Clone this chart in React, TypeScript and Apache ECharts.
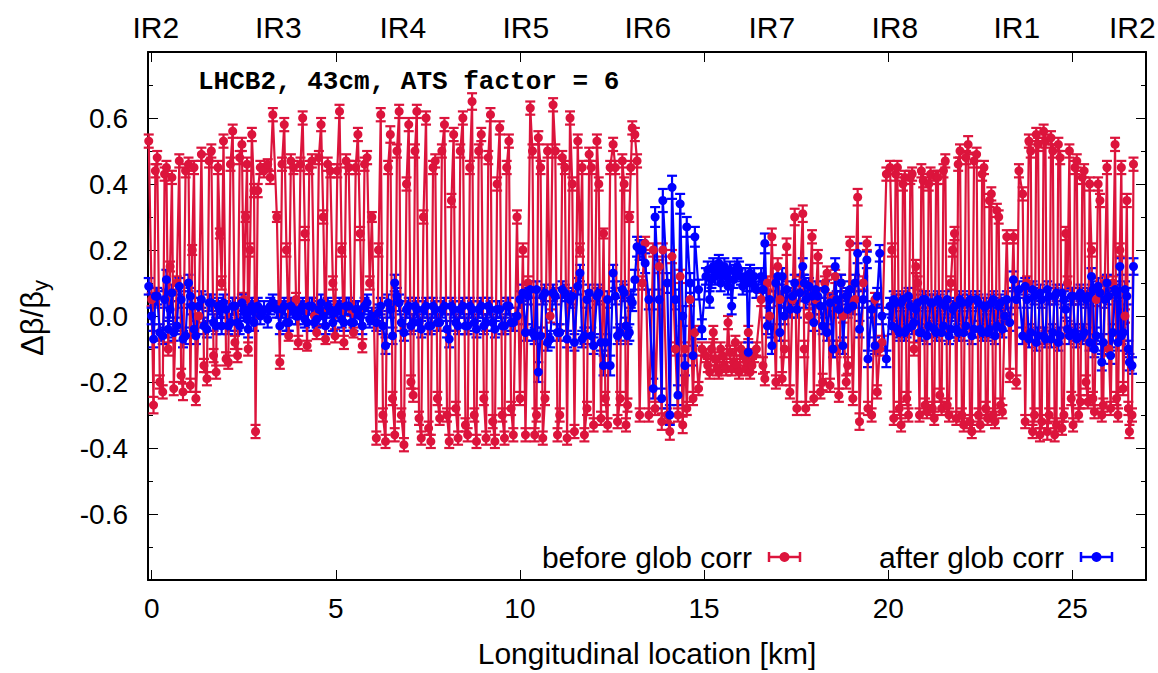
import React, { useEffect, useRef } from "react";
import * as echarts from "echarts";

// ---- BPM group A: longitudinal positions [km]
const locationsKm = [
  -0.08, 0.05, 0.15, 0.3, 0.4, 0.5, 0.6, 0.75, 0.85, 1.0, 1.1, 1.2, 1.35, 1.5, 1.62, 1.75, 1.85, 1.95, 2.08, 2.2, 2.33, 2.45, 2.55, 2.62, 2.72,
  2.78, 2.82, 2.88, 2.95, 3.05, 3.15, 3.22, 3.29,
  3.4, 3.48, 3.6, 3.72, 3.85, 3.98, 4.1, 4.22, 4.35, 4.48, 4.6, 4.72, 4.85, 4.98, 5.1, 5.22, 5.35, 5.48, 5.6, 5.72, 5.85, 5.98,
  6.1, 6.22, 6.35, 6.48, 6.6, 6.72, 6.85, 6.98, 7.1, 7.2, 7.32, 7.45, 7.58, 7.7, 7.82, 7.95, 8.08, 8.2, 8.32, 8.45, 8.58, 8.7, 8.82, 8.95, 9.08, 9.2, 9.32, 9.45, 9.58, 9.7, 9.82,
  9.92, 10.0, 10.08, 10.15,
  10.28, 10.4, 10.5, 10.62, 10.75, 10.9, 11.02, 11.15, 11.28, 11.36, 11.48, 11.57, 11.63, 11.75, 11.88, 12.0, 12.09, 12.2, 12.27, 12.38, 12.45, 12.53, 12.65, 12.78, 12.88, 12.97, 13.05,
  13.12, 13.18, 13.25, 13.32,
  13.4, 13.5, 13.62, 13.67, 13.78, 13.85, 13.88, 14.0, 14.07, 14.13, 14.22, 14.29, 14.35, 14.42, 14.48, 14.53, 14.62, 14.7, 14.75, 14.85, 14.94,
  15.05, 15.15, 15.25, 15.35, 15.45, 15.55, 15.65, 15.75, 15.85, 15.95, 16.05, 16.12, 16.2, 16.3, 16.42,
  16.55, 16.65, 16.72, 16.84, 16.95, 17.06, 17.12, 17.24, 17.33, 17.46, 17.52, 17.6, 17.68, 17.76, 17.85, 17.93, 17.98, 18.09, 18.16, 18.28, 18.34, 18.42, 18.5, 18.56, 18.66, 18.77, 18.86, 18.96, 19.04, 19.17, 19.22, 19.32, 19.42, 19.45, 19.55, 19.64, 19.7, 19.77, 19.83,
  19.95, 20.05,
  20.15, 20.25, 20.35, 20.45, 20.55, 20.65, 20.75, 20.85, 20.95, 21.05, 21.15, 21.25, 21.35, 21.45, 21.55, 21.65, 21.75, 21.85, 21.95, 22.05, 22.17, 22.27, 22.4, 22.5, 22.6, 22.7, 22.8, 22.9, 23.0, 23.1, 23.22, 23.3,
  23.4, 23.48, 23.55,
  23.65, 23.72, 23.82, 23.92, 24.02, 24.12, 24.22, 24.32, 24.42, 24.52, 24.62, 24.72, 24.82, 24.92, 25.02, 25.12, 25.22, 25.32, 25.42, 25.52, 25.6, 25.7, 25.8, 25.88, 25.94, 26.04, 26.16, 26.24, 26.29, 26.38, 26.48, 26.55, 26.62, 26.66,
];

// Δβ/β_y before global correction (group A)
const beforeGlobCorr = [
  0.53, -0.27, 0.48, -0.23, 0.45, 0.15, -0.22, 0.47, -0.23, 0.46, 0.2, -0.25, 0.49, -0.19, 0.5, -0.17, 0.25, 0.53, -0.14, 0.56, -0.12, 0.52, 0.3, -0.1, 0.55,
  0.38, -0.35, 0.38, 0.45, 0.44, 0.46, 0.42, 0.61,
  0.3, -0.14, 0.58, -0.06, 0.45, -0.08, 0.6, -0.09, 0.47, -0.05, 0.58, -0.07, 0.44, -0.06, 0.62, -0.08, 0.45, -0.05, 0.55, -0.09, 0.48, 0.3,
  -0.37, 0.61, -0.38, 0.55, -0.36, 0.62, -0.39, 0.58, -0.24, 0.62, -0.37, 0.6, -0.38, 0.47, -0.31, 0.58, -0.38, 0.55, -0.37, 0.6, -0.36, 0.65, -0.38, 0.55, -0.37, 0.61, -0.38, 0.57, -0.37, 0.53, -0.36,
  0.3, -0.25, 0.2, -0.36,
  0.63, -0.36, 0.54, -0.37, 0.5, 0.64, -0.36, 0.48, -0.37, 0.6, -0.35, 0.53, 0.2, -0.36, 0.49, -0.33, 0.53, -0.31, 0.25, -0.33, 0.45, 0.52, -0.32, 0.47, -0.33, 0.3, 0.57,
  0.55, 0.47, -0.3, 0.1,
  0.22, -0.3, 0.2, -0.28, 0.15, -0.32, 0.2, -0.3, -0.35, 0.18, -0.1, -0.3, 0.12, -0.33, -0.1, -0.28, 0.05, -0.25, -0.05, -0.22, -0.1,
  -0.12, -0.17, -0.05, -0.16, -0.1, -0.15, -0.02, -0.16, -0.08, -0.17, -0.12, -0.16, -0.05, -0.15, -0.1,
  0.05, -0.19, 0.1, 0.24, -0.2, 0.05, -0.19, 0.21, -0.23, 0.3, -0.28, 0.1, 0.31, -0.28, 0.0, 0.24, -0.25, 0.18, -0.23, 0.1, 0.13, -0.21, 0.05, 0.12, -0.24, 0.0, -0.2, 0.22, -0.25, 0.36, -0.32, 0.1, 0.22, -0.28, -0.3, 0.05, -0.23, -0.1, -0.08,
  0.43, 0.45,
  -0.31, 0.45, -0.33, 0.42, -0.3, 0.43, 0.15, -0.3, 0.41, -0.29, 0.43, -0.31, 0.42, -0.28, 0.47, -0.3, 0.2, -0.31, 0.5, -0.33, 0.52, -0.35, 0.49, -0.33, 0.45, -0.31, 0.37, -0.32, 0.3, -0.29, 0.24, -0.18,
  0.24, -0.2, 0.44,
  0.37, -0.32, 0.53, -0.35, 0.55, -0.36, 0.56, -0.35, 0.54, -0.36, 0.52, -0.34, 0.25, 0.5, -0.33, 0.47, -0.26, 0.44, -0.26, 0.2, -0.29, 0.4, -0.3, 0.1, 0.45, -0.28, 0.52, -0.3, 0.2, -0.22, 0.35, -0.35, -0.3, 0.46,
];

// Δβ/β_y after global correction (group A)
const afterGlobCorr = [
  0.09, -0.07, 0.06, -0.06, 0.11, 0.02, -0.05, 0.09, -0.07, 0.1, 0.03, -0.06, 0.05, -0.04, 0.04, -0.03, 0.02, 0.04, -0.03, 0.03, -0.02, 0.04, 0.01, -0.04, 0.03,
  -0.02, 0.02, 0.03, 0.0, 0.02, -0.01, 0.03, 0.04,
  0.02, -0.03, 0.03, -0.02, 0.02, 0.0, 0.03, -0.02, 0.03, -0.01, 0.04, -0.03, 0.02, 0.01, 0.03, -0.02, 0.03, -0.02, 0.02, -0.03, 0.04, 0.0,
  -0.02, 0.03, -0.09, 0.02, 0.1, 0.04, -0.05, 0.03, -0.02, 0.02, -0.04, 0.03, -0.03, 0.02, -0.02, 0.03, -0.07, 0.02, -0.03, 0.03, -0.03, 0.02, -0.04, 0.03, -0.02, 0.02, -0.04, 0.02, -0.03, 0.03, -0.02,
  0.0, 0.05, 0.07, -0.05,
  0.08, -0.06, -0.17, 0.06, -0.08, 0.07, -0.05, 0.08, -0.07, 0.05, -0.08, 0.09, 0.13, -0.06, 0.07, -0.09, 0.06, -0.08, -0.15, 0.05, -0.15, 0.13, -0.06, 0.08, -0.03, -0.05, 0.04,
  0.11, 0.21, 0.2, 0.2,
  0.16, 0.05, -0.22, 0.3, 0.05, -0.25, 0.35, 0.1, -0.3, 0.39, 0.05, -0.24, 0.34, 0.0, -0.15, 0.27, 0.1, -0.12, 0.24, 0.08, -0.04,
  0.12, 0.05, 0.15, 0.14, 0.1, 0.15, 0.09, 0.03, 0.13, 0.14, 0.09, 0.12, -0.11, 0.1, 0.08,
  0.12, 0.22, -0.03, -0.09, 0.1, -0.05, 0.12, 0.08, 0.02, 0.1, 0.02, 0.07, 0.15, 0.05, 0.09, 0.06, -0.02, 0.06, 0.03, 0.08, -0.05, 0.04, -0.1, 0.15, 0.02, -0.09, 0.06, 0.08, 0.03, 0.19, -0.04, 0.05, 0.17, -0.13, 0.02, -0.09, 0.06, 0.19, 0.0,
  -0.13, 0.03,
  0.05, -0.04, 0.04, -0.05, 0.06, -0.03, 0.02, -0.05, 0.05, -0.06, 0.04, -0.04, 0.05, -0.05, 0.03, -0.06, 0.02, -0.04, 0.05, -0.05, 0.04, -0.06, 0.05, -0.04, 0.03, -0.05, 0.04, -0.06, 0.03, -0.04, 0.05, -0.02,
  0.11, 0.05, 0.08,
  -0.06, 0.09, -0.07, 0.08, -0.08, 0.07, -0.06, 0.08, -0.07, 0.06, -0.08, 0.07, 0.02, -0.06, 0.06, -0.07, 0.07, -0.05, 0.06, 0.12, -0.1, 0.09, -0.14, 0.05, 0.1, -0.12, 0.08, -0.08, 0.15, -0.05, 0.06, -0.14, -0.15, 0.15,
];

const beforeErr = [
  0.02, 0.025, 0.02, 0.02, 0.02, 0.015, 0.02, 0.02, 0.025, 0.02, 0.015, 0.02, 0.02, 0.02, 0.02, 0.02, 0.015, 0.02, 0.02, 0.02, 0.02, 0.02, 0.015, 0.02, 0.02,
  0.02, 0.02, 0.02, 0.02, 0.02, 0.015, 0.02, 0.02,
  0.015, 0.02, 0.02, 0.015, 0.02, 0.02, 0.02, 0.015, 0.02, 0.02, 0.02, 0.015, 0.02, 0.02, 0.02, 0.02, 0.02, 0.015, 0.02, 0.02, 0.02, 0.015,
  0.02, 0.02, 0.02, 0.025, 0.02, 0.02, 0.02, 0.02, 0.02, 0.02, 0.02, 0.02, 0.02, 0.02, 0.02, 0.02, 0.02, 0.02, 0.02, 0.02, 0.02, 0.025, 0.02, 0.02, 0.02, 0.02, 0.02, 0.02, 0.02, 0.02, 0.02,
  0.02, 0.02, 0.02, 0.02,
  0.02, 0.02, 0.02, 0.02, 0.02, 0.02, 0.02, 0.02, 0.02, 0.02, 0.02, 0.02, 0.02, 0.02, 0.02, 0.02, 0.02, 0.02, 0.015, 0.02, 0.02, 0.02, 0.02, 0.02, 0.02, 0.015, 0.02,
  0.02, 0.02, 0.02, 0.02,
  0.02, 0.02, 0.02, 0.02, 0.02, 0.025, 0.02, 0.02, 0.025, 0.02, 0.02, 0.02, 0.02, 0.025, 0.02, 0.02, 0.02, 0.02, 0.02, 0.02, 0.02,
  0.02, 0.02, 0.02, 0.02, 0.02, 0.02, 0.02, 0.02, 0.02, 0.02, 0.02, 0.02, 0.02, 0.02, 0.02,
  0.02, 0.02, 0.02, 0.025, 0.02, 0.02, 0.02, 0.025, 0.02, 0.025, 0.02, 0.02, 0.025, 0.02, 0.02, 0.02, 0.02, 0.02, 0.02, 0.02, 0.02, 0.02, 0.02, 0.02, 0.02, 0.02, 0.02, 0.02, 0.02, 0.025, 0.025, 0.02, 0.02, 0.02, 0.02, 0.02, 0.02, 0.02, 0.02,
  0.02, 0.02,
  0.02, 0.02, 0.02, 0.02, 0.02, 0.02, 0.02, 0.02, 0.02, 0.02, 0.02, 0.02, 0.02, 0.02, 0.02, 0.02, 0.02, 0.02, 0.02, 0.02, 0.025, 0.02, 0.02, 0.02, 0.02, 0.02, 0.02, 0.02, 0.02, 0.02, 0.02, 0.02,
  0.02, 0.02, 0.02,
  0.02, 0.02, 0.02, 0.02, 0.02, 0.02, 0.02, 0.025, 0.02, 0.02, 0.02, 0.02, 0.02, 0.02, 0.02, 0.02, 0.02, 0.02, 0.02, 0.02, 0.02, 0.02, 0.02, 0.02, 0.02, 0.02, 0.02, 0.02, 0.02, 0.02, 0.02, 0.02, 0.02, 0.02,
];

const afterErr = [
  0.025, 0.025, 0.025, 0.025, 0.03, 0.025, 0.025, 0.025, 0.025, 0.025, 0.025, 0.025, 0.025, 0.025, 0.025, 0.025, 0.025, 0.025, 0.025, 0.025, 0.025, 0.025, 0.025, 0.025, 0.025,
  0.025, 0.025, 0.025, 0.025, 0.025, 0.025, 0.025, 0.025,
  0.025, 0.025, 0.025, 0.025, 0.025, 0.025, 0.025, 0.025, 0.025, 0.025, 0.025, 0.025, 0.025, 0.025, 0.025, 0.025, 0.025, 0.025, 0.025, 0.025, 0.025, 0.025,
  0.025, 0.025, 0.025, 0.025, 0.025, 0.025, 0.025, 0.025, 0.025, 0.025, 0.025, 0.025, 0.025, 0.025, 0.025, 0.025, 0.025, 0.025, 0.025, 0.025, 0.025, 0.025, 0.025, 0.025, 0.025, 0.025, 0.025, 0.025, 0.025, 0.025, 0.025,
  0.025, 0.025, 0.025, 0.025,
  0.025, 0.025, 0.03, 0.025, 0.025, 0.025, 0.025, 0.025, 0.025, 0.025, 0.025, 0.025, 0.025, 0.025, 0.025, 0.025, 0.025, 0.025, 0.03, 0.025, 0.03, 0.025, 0.025, 0.025, 0.025, 0.025, 0.025,
  0.03, 0.03, 0.03, 0.03,
  0.03, 0.03, 0.03, 0.03, 0.03, 0.03, 0.035, 0.03, 0.03, 0.035, 0.03, 0.03, 0.03, 0.03, 0.03, 0.03, 0.03, 0.03, 0.03, 0.03, 0.03,
  0.025, 0.025, 0.025, 0.025, 0.025, 0.025, 0.025, 0.025, 0.025, 0.025, 0.025, 0.025, 0.03, 0.025, 0.025,
  0.025, 0.03, 0.025, 0.025, 0.025, 0.025, 0.025, 0.025, 0.025, 0.025, 0.025, 0.025, 0.025, 0.025, 0.025, 0.025, 0.025, 0.025, 0.025, 0.025, 0.025, 0.025, 0.025, 0.025, 0.025, 0.025, 0.025, 0.025, 0.025, 0.03, 0.025, 0.025, 0.025, 0.025, 0.025, 0.025, 0.025, 0.025, 0.025,
  0.025, 0.025,
  0.025, 0.025, 0.025, 0.025, 0.025, 0.025, 0.025, 0.025, 0.025, 0.025, 0.025, 0.025, 0.025, 0.025, 0.025, 0.025, 0.025, 0.025, 0.025, 0.025, 0.025, 0.025, 0.025, 0.025, 0.025, 0.025, 0.025, 0.025, 0.025, 0.025, 0.025, 0.025,
  0.025, 0.025, 0.025,
  0.025, 0.025, 0.025, 0.025, 0.025, 0.025, 0.025, 0.025, 0.025, 0.025, 0.025, 0.025, 0.025, 0.025, 0.025, 0.025, 0.025, 0.025, 0.025, 0.025, 0.025, 0.025, 0.025, 0.025, 0.025, 0.025, 0.025, 0.025, 0.025, 0.025, 0.025, 0.025, 0.025, 0.025,
];

// ---- BPM group B (interleaved arc monitors): positions [km]
const locationsKmB = [
  0.0, 0.1, 0.22, 0.35, 0.45, 0.55, 0.68, 0.8, 0.92, 1.05, 1.15, 1.28, 1.42, 1.56, 1.68, 1.8, 1.9, 2.02, 2.14, 2.26, 2.39, 2.5, 2.59, 2.67,
  3.54, 3.66, 3.78, 3.92, 4.04, 4.16, 4.28, 4.42, 4.54, 4.66, 4.78, 4.92, 5.04, 5.16, 5.28, 5.42, 5.54, 5.66, 5.78, 5.92,
  6.16, 6.28, 6.42, 6.54, 6.66, 6.78, 6.92, 7.04, 7.15, 7.26, 7.38, 7.52, 7.64, 7.76, 7.88, 8.02, 8.14, 8.26, 8.38, 8.52, 8.64, 8.76, 8.88, 9.02, 9.14, 9.26, 9.38, 9.52, 9.64, 9.76,
  10.22, 10.34, 10.45, 10.56, 10.68, 10.82, 10.96, 11.08, 11.22, 11.42, 11.69, 11.82, 11.94, 12.14, 12.32, 12.59, 12.72, 12.83, 12.92, 13.01,
  15.1, 15.2, 15.3, 15.4, 15.5, 15.6, 15.7, 15.8, 15.9, 16.0, 16.16, 16.25, 16.36,
  16.6, 16.78, 17.0, 17.18, 17.4, 17.72, 18.03, 18.22, 18.6, 18.72, 18.9, 19.1,
  20.1, 20.2, 20.3, 20.4, 20.5, 20.6, 20.7, 20.8, 20.9, 21.0, 21.1, 21.2, 21.3, 21.4, 21.5, 21.6, 21.7, 21.8, 21.9, 22.0, 22.11, 22.22, 22.33, 22.45, 22.55, 22.65, 22.75, 22.85, 22.95, 23.05, 23.16,
  23.77, 23.87, 23.97, 24.07, 24.17, 24.27, 24.37, 24.47, 24.57, 24.67, 24.77, 24.87, 24.97, 25.07, 25.17, 25.27, 25.37, 25.47, 25.56, 25.65, 25.75, 25.84, 25.99, 26.1, 26.2, 26.33, 26.43, 26.52,
];

const beforeGlobCorrB = [
  0.05, 0.44, -0.2, 0.43, -0.1, 0.42, 0.1, -0.18, 0.44, -0.21, 0.45, 0.0, -0.15, 0.47, -0.12, 0.45, 0.1, -0.13, 0.46, -0.08, 0.48, 0.05, 0.46, 0.2,
  0.46, 0.2, 0.47, 0.05, 0.46, 0.25, 0.45, 0.0, 0.48, 0.3, 0.46, 0.1, 0.44, 0.2, 0.47, 0.02, 0.45, 0.25, 0.46, 0.1,
  0.2, -0.3, 0.45, -0.25, 0.5, -0.3, 0.4, -0.2, 0.5, -0.31, 0.3, -0.34, 0.45, -0.25, 0.5, -0.3, 0.35, -0.28, 0.5, -0.33, 0.45, -0.3, 0.5, -0.25, 0.48, -0.32, 0.4, -0.3, 0.45, -0.28,
  0.1, 0.5, -0.3, 0.45, -0.25, 0.0, 0.5, -0.3, 0.45, 0.4, 0.45, -0.28, 0.45, 0.4, -0.25, 0.45, -0.25, 0.4, -0.27, 0.45,
  -0.15, -0.1, -0.13, -0.17, -0.12, -0.16, -0.11, -0.14, -0.15, -0.1, -0.14, -0.17, -0.12,
  -0.15, 0.0, 0.15, -0.1, 0.05, -0.1, 0.05, -0.2, -0.1, 0.1, -0.15, 0.05,
  0.2, 0.43, -0.28, 0.4, -0.25, 0.42, -0.1, 0.1, 0.44, -0.27, 0.4, -0.28, 0.42, -0.24, 0.44, -0.27, 0.1, 0.25, 0.46, -0.3, 0.48, -0.32, 0.47, -0.3, 0.43, -0.28, 0.35, -0.3, 0.32, -0.27, 0.0,
  0.1, 0.5, -0.3, 0.52, -0.32, 0.53, -0.3, 0.5, -0.33, 0.48, -0.3, 0.1, -0.25, 0.45, -0.3, 0.42, -0.2, 0.4, -0.25, 0.05, 0.35, -0.27, -0.1, 0.1, -0.25, 0.45, 0.0, -0.28,
];

const afterGlobCorrB = [
  0.0, 0.06, -0.05, 0.05, -0.04, 0.07, -0.03, 0.05, -0.06, 0.06, -0.04, 0.03, -0.03, 0.04, -0.02, 0.03, -0.03, 0.02, -0.02, 0.03, -0.03, 0.02, -0.01, 0.02,
  0.02, -0.02, 0.03, 0.0, 0.02, -0.01, 0.03, -0.02, 0.02, 0.0, 0.03, -0.02, 0.02, -0.01, 0.03, -0.02, 0.02, 0.0, 0.03, -0.01,
  0.01, -0.03, 0.04, -0.06, 0.06, -0.02, 0.02, -0.03, 0.03, -0.02, 0.02, -0.03, 0.03, -0.02, 0.02, -0.04, 0.03, -0.02, 0.02, -0.03, 0.03, -0.02, 0.02, -0.03, 0.03, -0.02, 0.02, -0.03, 0.03, -0.02,
  0.06, -0.05, 0.08, -0.06, 0.07, -0.07, 0.06, -0.05, 0.07, 0.06, -0.07, 0.05, -0.06, 0.07, -0.08, 0.06, -0.05, 0.07, -0.06, 0.05,
  0.14, 0.11, 0.12, 0.16, 0.13, 0.12, 0.14, 0.11, 0.15, 0.12, 0.1, 0.13, 0.12,
  0.08, 0.05, 0.12, 0.0, 0.06, 0.1, 0.08, -0.03, 0.05, 0.1, 0.02, 0.1,
  -0.03, 0.04, -0.05, 0.05, -0.04, 0.03, -0.02, 0.04, -0.05, 0.05, -0.03, 0.04, -0.05, 0.04, -0.03, 0.05, -0.04, 0.03, -0.05, 0.04, -0.03, 0.05, -0.04, 0.04, -0.05, 0.03, -0.04, 0.05, -0.03, 0.04, 0.0,
  0.05, -0.05, 0.06, -0.06, 0.05, -0.07, 0.06, -0.05, 0.07, -0.06, 0.05, -0.04, 0.06, -0.05, 0.06, -0.06, 0.05, -0.08, 0.08, -0.06, 0.07, -0.08, 0.06, -0.05, 0.07, -0.06, 0.08, -0.1,
];

const beforeErrB = [
  0.02, 0.02, 0.02, 0.02, 0.02, 0.02, 0.02, 0.02, 0.02, 0.02, 0.02, 0.02, 0.02, 0.02, 0.02, 0.02, 0.02, 0.02, 0.02, 0.02, 0.02, 0.02, 0.02, 0.02,
  0.02, 0.02, 0.02, 0.02, 0.02, 0.02, 0.02, 0.02, 0.02, 0.02, 0.02, 0.02, 0.02, 0.02, 0.02, 0.02, 0.02, 0.02, 0.02, 0.02,
  0.02, 0.02, 0.02, 0.02, 0.02, 0.02, 0.02, 0.02, 0.02, 0.02, 0.02, 0.02, 0.02, 0.02, 0.02, 0.02, 0.02, 0.02, 0.02, 0.02, 0.02, 0.02, 0.02, 0.02, 0.02, 0.02, 0.02, 0.02, 0.02, 0.02,
  0.02, 0.02, 0.02, 0.02, 0.02, 0.02, 0.02, 0.02, 0.02, 0.02, 0.02, 0.02, 0.02, 0.02, 0.02, 0.02, 0.02, 0.02, 0.02, 0.02,
  0.02, 0.02, 0.02, 0.02, 0.02, 0.02, 0.02, 0.02, 0.02, 0.02, 0.02, 0.02, 0.02,
  0.025, 0.025, 0.025, 0.025, 0.025, 0.025, 0.025, 0.025, 0.025, 0.025, 0.025, 0.025,
  0.02, 0.02, 0.02, 0.02, 0.02, 0.02, 0.02, 0.02, 0.02, 0.02, 0.02, 0.02, 0.02, 0.02, 0.02, 0.02, 0.02, 0.02, 0.02, 0.02, 0.02, 0.02, 0.02, 0.02, 0.02, 0.02, 0.02, 0.02, 0.02, 0.02, 0.02,
  0.02, 0.02, 0.02, 0.02, 0.02, 0.02, 0.02, 0.02, 0.02, 0.02, 0.02, 0.02, 0.02, 0.02, 0.02, 0.02, 0.02, 0.02, 0.02, 0.02, 0.02, 0.02, 0.02, 0.02, 0.02, 0.02, 0.02, 0.02,
];

const afterErrB = [
  0.025, 0.025, 0.025, 0.025, 0.025, 0.025, 0.025, 0.025, 0.025, 0.025, 0.025, 0.025, 0.025, 0.025, 0.025, 0.025, 0.025, 0.025, 0.025, 0.025, 0.025, 0.025, 0.025, 0.025,
  0.025, 0.025, 0.025, 0.025, 0.025, 0.025, 0.025, 0.025, 0.025, 0.025, 0.025, 0.025, 0.025, 0.025, 0.025, 0.025, 0.025, 0.025, 0.025, 0.025,
  0.025, 0.025, 0.025, 0.025, 0.025, 0.025, 0.025, 0.025, 0.025, 0.025, 0.025, 0.025, 0.025, 0.025, 0.025, 0.025, 0.025, 0.025, 0.025, 0.025, 0.025, 0.025, 0.025, 0.025, 0.025, 0.025, 0.025, 0.025, 0.025, 0.025,
  0.025, 0.025, 0.025, 0.025, 0.025, 0.025, 0.025, 0.025, 0.025, 0.025, 0.025, 0.025, 0.025, 0.025, 0.025, 0.025, 0.025, 0.025, 0.025, 0.025,
  0.025, 0.025, 0.025, 0.025, 0.025, 0.025, 0.025, 0.025, 0.025, 0.025, 0.025, 0.025, 0.025,
  0.025, 0.025, 0.025, 0.025, 0.025, 0.025, 0.025, 0.025, 0.025, 0.025, 0.025, 0.025,
  0.025, 0.025, 0.025, 0.025, 0.025, 0.025, 0.025, 0.025, 0.025, 0.025, 0.025, 0.025, 0.025, 0.025, 0.025, 0.025, 0.025, 0.025, 0.025, 0.025, 0.025, 0.025, 0.025, 0.025, 0.025, 0.025, 0.025, 0.025, 0.025, 0.025, 0.025,
  0.025, 0.025, 0.025, 0.025, 0.025, 0.025, 0.025, 0.025, 0.025, 0.025, 0.025, 0.025, 0.025, 0.025, 0.025, 0.025, 0.025, 0.025, 0.025, 0.025, 0.025, 0.025, 0.025, 0.025, 0.025, 0.025, 0.025, 0.025,
];

// interaction regions on the top axis
const irNames = ["IR2", "IR3", "IR4", "IR5", "IR6", "IR7", "IR8", "IR1", "IR2"];
const irKm = [0.11, 3.44, 6.82, 10.16, 13.47, 16.84, 20.18, 23.49, 26.63];

const seriesNames = ["before glob corr", "after glob corr"];
const titleText = "LHCB2, 43cm, ATS factor = 6";
const xAxisTitle = "Longitudinal location [km]";

const RED = "#dc143c";
const BLUE = "#0000ff";
const SANS = '"Liberation Sans", Arial, Helvetica, sans-serif';
const MONO = '"Liberation Mono", "Courier New", monospace';
const FS_TICK = 28;
const FS_TEXT = 30;

function rowsOf(locs: number[], values: number[], errs: number[]) {
  const n = Math.min(locs.length, values.length, errs.length);
  const rows: number[][] = [];
  for (let i = 0; i < n; i++) rows.push([locs[i], values[i], errs[i]]);
  return rows;
}

function buildRows(a: number[][], b: number[][]) {
  return a.concat(b).sort((p, q) => p[0] - q[0]);
}

function lineSeries(name: string, rows: number[][], color: string) {
  return {
    type: "line",
    name,
    data: rows.map((r) => [r[0], r[1]]),
    symbol: "circle",
    symbolSize: 9,
    showSymbol: true,
    showAllSymbol: true,
    lineStyle: { color, width: 2.2 },
    itemStyle: { color },
    emphasis: { disabled: true },
    silent: true,
  };
}

function errorSeries(name: string, rows: number[][], color: string) {
  return {
    type: "custom",
    name: name + " err",
    data: rows,
    encode: { x: 0, y: 1 },
    silent: true,
    renderItem: (params: any, api: any) => {
      const x = api.value(0);
      const y = api.value(1);
      const e = api.value(2);
      const top = api.coord([x, y + e]);
      const bot = api.coord([x, y - e]);
      const hw = 5;
      const style = { stroke: color, lineWidth: 2.2 };
      return {
        type: "group",
        children: [
          { type: "line", shape: { x1: top[0], y1: top[1], x2: bot[0], y2: bot[1] }, style },
          { type: "line", shape: { x1: top[0] - hw, y1: top[1], x2: top[0] + hw, y2: top[1] }, style },
          { type: "line", shape: { x1: bot[0] - hw, y1: bot[1], x2: bot[0] + hw, y2: bot[1] }, style },
        ],
      };
    },
  };
}

function legendItem(label: string, textRight: number, x0: number, x1: number, y: number, color: string) {
  const style = { stroke: color, lineWidth: 2.5 };
  return [
    {
      type: "text",
      x: textRight,
      y,
      style: { text: label, fill: "#000", fontSize: FS_TEXT, fontFamily: SANS, align: "right", verticalAlign: "middle" },
    },
    { type: "line", shape: { x1: x0, y1: y, x2: x1, y2: y }, style },
    { type: "line", shape: { x1: x0, y1: y - 5, x2: x0, y2: y + 5 }, style },
    { type: "line", shape: { x1: x1, y1: y - 5, x2: x1, y2: y + 5 }, style },
    { type: "circle", shape: { cx: (x0 + x1) / 2, cy: y, r: 5 }, style: { fill: color } },
  ];
}

export default function App() {
  const ref = useRef<HTMLDivElement>(null);

  useEffect(() => {
    if (!ref.current) return;
    const chart = echarts.init(ref.current, undefined, { renderer: "svg" });

    const redRows = buildRows(
      rowsOf(locationsKm, beforeGlobCorr, beforeErr),
      rowsOf(locationsKmB, beforeGlobCorrB, beforeErrB)
    );
    const blueRows = buildRows(
      rowsOf(locationsKm, afterGlobCorr, afterErr),
      rowsOf(locationsKmB, afterGlobCorrB, afterErrB)
    );

    const axisLine = { show: true, onZero: false, lineStyle: { color: "#000", width: 2 } };
    const tick = { show: true, inside: true, length: 10, lineStyle: { color: "#000", width: 1 } };
    const minor = { show: true, splitNumber: 2, length: 5, lineStyle: { color: "#000", width: 1 } };

    const yFmt = (v: number) => {
      if (Math.abs(v) > 0.7) return "";
      if (Math.abs(v) < 1e-9) return "0.0";
      return v.toFixed(1);
    };

    const option: any = {
      animation: false,
      backgroundColor: "#fff",
      grid: { left: 148, right: 12, top: 52, bottom: 89, containLabel: false },
      xAxis: [
        {
          type: "value",
          min: -0.1,
          max: 27,
          position: "bottom",
          axisLine,
          axisTick: tick,
          splitLine: { show: false },
          axisLabel: {
            color: "#000",
            fontSize: FS_TICK,
            fontFamily: SANS,
            margin: 14,
            showMinLabel: false,
            showMaxLabel: false,
            formatter: (v: number) => (Math.abs(v / 5 - Math.round(v / 5)) < 1e-6 ? String(Math.round(v)) : ""),
          },
          name: xAxisTitle,
          nameLocation: "middle",
          nameGap: 58,
          nameTextStyle: { color: "#000", fontSize: FS_TEXT, fontFamily: SANS },
        },
        {
          type: "value",
          min: -0.1,
          max: 27,
          position: "top",
          axisLine,
          axisTick: tick,
          splitLine: { show: false },
          axisLabel: { show: false },
        },
      ],
      yAxis: [
        {
          type: "value",
          min: -0.8,
          max: 0.8,
          interval: 0.2,
          position: "left",
          axisLine,
          axisTick: tick,
          minorTick: minor,
          splitLine: { show: false },
          minorSplitLine: { show: false },
          axisLabel: { color: "#000", fontSize: FS_TICK, fontFamily: SANS, margin: 20, formatter: yFmt },
        },
        {
          type: "value",
          min: -0.8,
          max: 0.8,
          interval: 0.2,
          position: "right",
          axisLine,
          axisTick: tick,
          minorTick: minor,
          splitLine: { show: false },
          minorSplitLine: { show: false },
          axisLabel: { show: false },
        },
      ],
      series: [
        lineSeries(seriesNames[0], redRows, RED),
        errorSeries(seriesNames[0], redRows, RED),
        lineSeries(seriesNames[1], blueRows, BLUE),
        errorSeries(seriesNames[1], blueRows, BLUE),
        {
          type: "custom",
          name: "IR labels",
          data: irKm.map((k) => [k, 0.8]),
          encode: { x: 0, y: 1 },
          clip: false,
          silent: true,
          renderItem: (params: any, api: any) => {
            const p = api.coord([api.value(0), api.value(1)]);
            return {
              type: "text",
              x: p[0],
              y: p[1] - 25,
              style: {
                text: irNames[params.dataIndex],
                fill: "#000",
                fontSize: FS_TEXT,
                fontFamily: SANS,
                align: "center",
                verticalAlign: "middle",
              },
            };
          },
        },
      ],
      graphic: [
        {
          type: "text",
          x: 198,
          y: 82,
          style: {
            text: titleText,
            fill: "#000",
            fontSize: 26,
            fontWeight: "bold",
            fontFamily: MONO,
            align: "left",
            verticalAlign: "middle",
          },
        },
        {
          type: "text",
          x: 32,
          y: 318,
          rotation: Math.PI / 2,
          style: {
            text: "{a|Δβ/β}{b|y}",
            align: "center",
            verticalAlign: "middle",
            rich: {
              a: { fontSize: 31, fontFamily: SANS, fill: "#000" },
              b: { fontSize: 22, fontFamily: SANS, fill: "#000", padding: [16, 0, 0, 0] },
            },
          },
        },
        ...legendItem(seriesNames[0], 752, 769, 800, 557, RED),
        ...legendItem(seriesNames[1], 1064, 1081, 1112, 557, BLUE),
      ],
    };

    chart.setOption(option);
    return () => chart.dispose();
  }, []);

  return (
    <div
      ref={ref}
      style={{ position: "fixed", left: 0, top: 0, width: 1158, height: 673, background: "#fff" }}
    />
  );
}
